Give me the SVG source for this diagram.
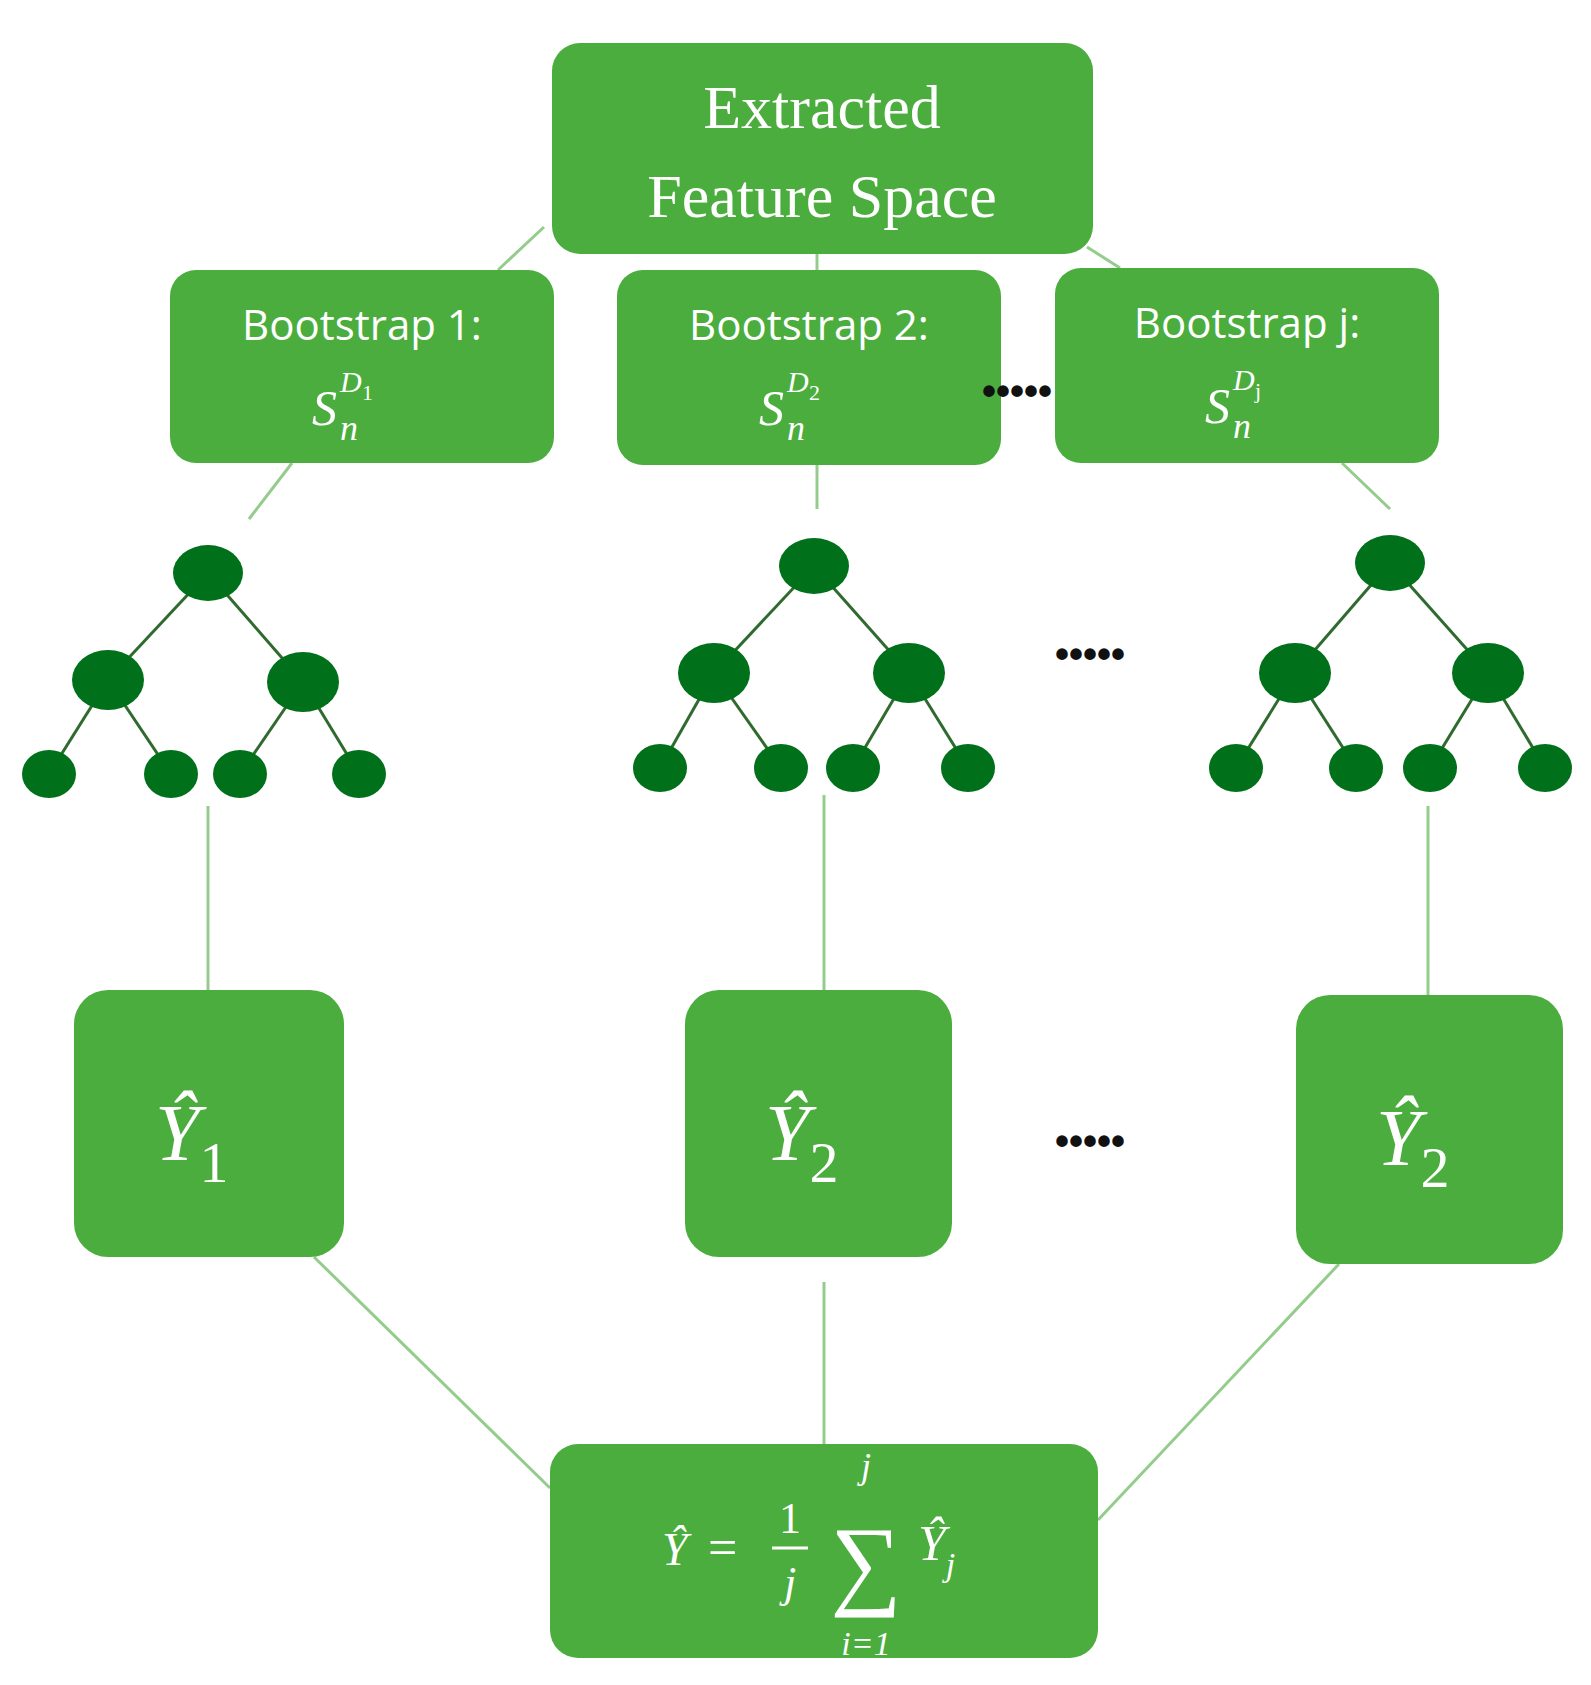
<svg xmlns="http://www.w3.org/2000/svg" width="1591" height="1685" viewBox="0 0 1591 1685">
<style>
.box{fill:#4bad3d}
.t{fill:#fff;font-family:"Liberation Serif",serif}
.s{fill:#fff;font-family:"Open Sans","Liberation Sans",sans-serif;font-size:42px}
.m{fill:#fff;font-family:"Liberation Serif",serif;font-style:italic}
.n{fill:#00701a}
.e{stroke:#2f6a2f;stroke-width:3}
.c{stroke:#94cc8c;stroke-width:3;fill:none}
.d{fill:#111;font-family:"Liberation Sans",sans-serif;font-size:40px;font-weight:bold}
</style>
<rect width="1591" height="1685" fill="#fff"/>
<g id="connectors">
<line class="c" x1="544" y1="227" x2="498" y2="270"/>
<line class="c" x1="817" y1="254" x2="817" y2="270"/>
<line class="c" x1="1087" y1="247" x2="1120" y2="268"/>
<line class="c" x1="292" y1="463" x2="249" y2="519"/>
<line class="c" x1="817" y1="465" x2="817" y2="509"/>
<line class="c" x1="1342" y1="463" x2="1390" y2="509"/>
<line class="c" x1="208" y1="806" x2="208" y2="990"/>
<line class="c" x1="824" y1="795" x2="824" y2="990"/>
<line class="c" x1="1428" y1="806" x2="1428" y2="995"/>
<line class="c" x1="314" y1="1257" x2="550" y2="1488"/>
<line class="c" x1="824" y1="1282" x2="824" y2="1444"/>
<line class="c" x1="1339" y1="1264" x2="1098" y2="1520"/>
</g>
<g id="top"><rect class="box" x="552" y="43" width="541" height="211" rx="28"/>
<text class="t" x="822" y="128" font-size="62" text-anchor="middle">Extracted</text>
<text class="t" x="822" y="217" font-size="62" text-anchor="middle">Feature Space</text></g>
<g id="boot1"><rect class="box" x="170" y="270" width="384" height="193" rx="26"/>
<text class="s" x="362" y="340" text-anchor="middle">Bootstrap 1:</text>
<text class="m" x="312" y="425" font-size="50">S</text><text class="m" x="340" y="440" font-size="36">n</text><text class="m" x="340" y="392" font-size="30">D</text><text class="t" x="362" y="400" font-size="22">1</text></g>
<g id="boot2"><rect class="box" x="617" y="270" width="384" height="195" rx="26"/>
<text class="s" x="809" y="340" text-anchor="middle">Bootstrap 2:</text>
<text class="m" x="759" y="425" font-size="50">S</text><text class="m" x="787" y="440" font-size="36">n</text><text class="m" x="787" y="392" font-size="30">D</text><text class="t" x="809" y="400" font-size="22">2</text></g>
<g id="bootj"><rect class="box" x="1055" y="268" width="384" height="195" rx="26"/>
<text class="s" x="1247" y="338" text-anchor="middle">Bootstrap j:</text>
<text class="m" x="1205" y="423" font-size="50">S</text><text class="m" x="1233" y="438" font-size="36">n</text><text class="m" x="1233" y="390" font-size="30">D</text><text class="t" x="1255" y="398" font-size="22">j</text></g>
<text class="d" x="982" y="405">•••••</text>
<g id="tree1">
<line class="e" x1="208" y1="573" x2="108" y2="680"/><line class="e" x1="208" y1="573" x2="303" y2="682"/>
<line class="e" x1="108" y1="680" x2="49" y2="774"/><line class="e" x1="108" y1="680" x2="171" y2="774"/>
<line class="e" x1="303" y1="682" x2="240" y2="774"/><line class="e" x1="303" y1="682" x2="359" y2="774"/>
<ellipse class="n" cx="208" cy="573" rx="35" ry="28"/><ellipse class="n" cx="108" cy="680" rx="36" ry="30"/><ellipse class="n" cx="303" cy="682" rx="36" ry="30"/>
<ellipse class="n" cx="49" cy="774" rx="27" ry="24"/><ellipse class="n" cx="171" cy="774" rx="27" ry="24"/><ellipse class="n" cx="240" cy="774" rx="27" ry="24"/><ellipse class="n" cx="359" cy="774" rx="27" ry="24"/>
</g>
<g id="tree2">
<line class="e" x1="814" y1="566" x2="714" y2="673"/><line class="e" x1="814" y1="566" x2="909" y2="673"/>
<line class="e" x1="714" y1="673" x2="660" y2="768"/><line class="e" x1="714" y1="673" x2="781" y2="768"/>
<line class="e" x1="909" y1="673" x2="853" y2="768"/><line class="e" x1="909" y1="673" x2="968" y2="768"/>
<ellipse class="n" cx="814" cy="566" rx="35" ry="28"/><ellipse class="n" cx="714" cy="673" rx="36" ry="30"/><ellipse class="n" cx="909" cy="673" rx="36" ry="30"/>
<ellipse class="n" cx="660" cy="768" rx="27" ry="24"/><ellipse class="n" cx="781" cy="768" rx="27" ry="24"/><ellipse class="n" cx="853" cy="768" rx="27" ry="24"/><ellipse class="n" cx="968" cy="768" rx="27" ry="24"/>
</g>
<g id="tree3">
<line class="e" x1="1390" y1="563" x2="1295" y2="673"/><line class="e" x1="1390" y1="563" x2="1488" y2="673"/>
<line class="e" x1="1295" y1="673" x2="1236" y2="768"/><line class="e" x1="1295" y1="673" x2="1356" y2="768"/>
<line class="e" x1="1488" y1="673" x2="1430" y2="768"/><line class="e" x1="1488" y1="673" x2="1545" y2="768"/>
<ellipse class="n" cx="1390" cy="563" rx="35" ry="28"/><ellipse class="n" cx="1295" cy="673" rx="36" ry="30"/><ellipse class="n" cx="1488" cy="673" rx="36" ry="30"/>
<ellipse class="n" cx="1236" cy="768" rx="27" ry="24"/><ellipse class="n" cx="1356" cy="768" rx="27" ry="24"/><ellipse class="n" cx="1430" cy="768" rx="27" ry="24"/><ellipse class="n" cx="1545" cy="768" rx="27" ry="24"/>
</g>
<text class="d" x="1055" y="668">•••••</text>
<text class="d" x="1055" y="1155">•••••</text>
<g id="y1"><rect class="box" x="74" y="990" width="270" height="267" rx="34"/>
<text class="m" x="155" y="1160" font-size="80">Ŷ<tspan class="t" font-style="normal" font-size="58" dy="22">1</tspan></text></g>
<g id="y2"><rect class="box" x="685" y="990" width="267" height="267" rx="34"/>
<text class="m" x="765" y="1160" font-size="80">Ŷ<tspan class="t" font-style="normal" font-size="58" dy="22">2</tspan></text></g>
<g id="y3"><rect class="box" x="1296" y="995" width="267" height="269" rx="34"/>
<text class="m" x="1376" y="1165" font-size="80">Ŷ<tspan class="t" font-style="normal" font-size="58" dy="22">2</tspan></text></g>
<g id="result"><rect class="box" x="550" y="1444" width="548" height="214" rx="28"/>
<text class="m" x="662" y="1565" font-size="46">Ŷ</text>
<text class="t" x="708" y="1565" font-size="52">=</text>
<text class="t" x="790" y="1533" font-size="44" text-anchor="middle">1</text>
<line x1="772" y1="1548" x2="808" y2="1548" stroke="#fff" stroke-width="3"/>
<text class="m" x="790" y="1597" font-size="44" text-anchor="middle">j</text>
<text class="t" x="866" y="1596" font-size="100" text-anchor="middle">∑</text>
<text class="m" x="866" y="1478" font-size="36" text-anchor="middle">j</text>
<text class="m" x="866" y="1655" font-size="34" text-anchor="middle">i=1</text>
<text class="m" x="918" y="1560" font-size="50">Ŷ<tspan font-size="34" dy="16">j</tspan></text></g>
</svg>
